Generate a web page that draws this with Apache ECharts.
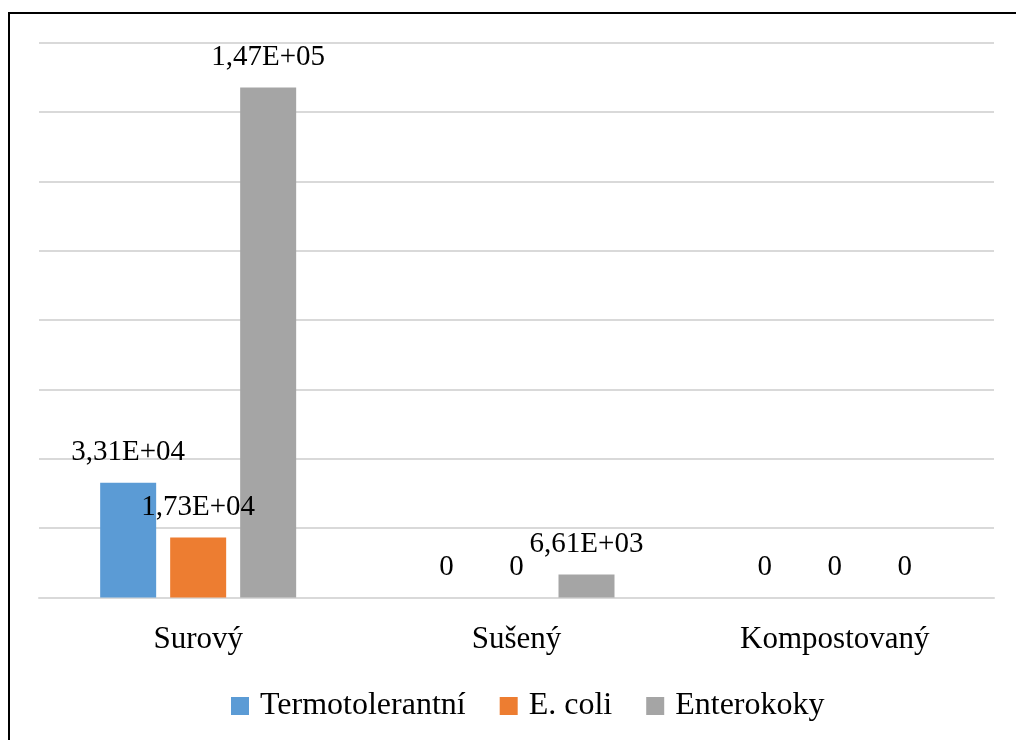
<!DOCTYPE html>
<html>
<head>
<meta charset="utf-8">
<script src="https://cdn.jsdelivr.net/npm/echarts@6/dist/echarts.min.js"></script>
<style>
html,body{margin:0;padding:0;background:#fff;}
#chart{width:1016px;height:740px;}
</style>
</head>
<body>
<div id="chart"></div>
<script>
const categories = ['Surový', 'Sušený', 'Kompostovaný'];
const seriesNames = ['Termotolerantní', 'E. coli', 'Enterokoky'];
const termotolerantni = [33100, 0, 0];
const eColi = [17300, 0, 0];
const enterokoky = [147000, 6610, 0];
const colors = ['#5B9BD5', '#ED7D31', '#A5A5A5'];

function fmt(v) {
  if (v === 0) return '0';
  const parts = v.toExponential(2).split('e');
  const n = parseInt(parts[1], 10);
  return parts[0].replace('.', ',') + 'E' + (n < 0 ? '-' : '+') + String(Math.abs(n)).padStart(2, '0');
}

const font = 'Liberation Serif';
const chart = echarts.init(document.getElementById('chart'), null, {renderer: 'canvas'});

function mkSeries(name, data, color) {
  return {
    name: name,
    type: 'bar',
    data: data,
    barWidth: 56,
    barGap: '25%',
    itemStyle: {color: color},
    label: {
      show: true,
      position: 'top',
      distance: 16,
      color: '#000',
      fontFamily: font,
      fontSize: 29,
      lineHeight: 29,
      formatter: p => fmt(p.value)
    },
    emphasis: {disabled: true},
    animation: false
  };
}

chart.setOption({
  animation: false,
  color: colors,
  graphic: [{
    type: 'rect',
    shape: {x: 9, y: 13, width: 1200, height: 900},
    style: {fill: 'none', stroke: '#000', lineWidth: 2},
    silent: true
  }],
  legend: {
    data: seriesNames,
    left: 226,
    top: 685,
    itemWidth: 18,
    itemHeight: 18,
    itemGap: 34,
    icon: 'rect',
    textStyle: {
      color: '#000',
      fontFamily: font,
      fontSize: 32,
      lineHeight: 32,
      padding: [0, 0, 0, 6]
    }
  },
  grid: {left: 39, right: 22, top: 42.5, bottom: 142.5, containLabel: false},
  xAxis: {
    type: 'category',
    data: categories,
    axisLine: {show: true, lineStyle: {color: '#D9D9D9', width: 2}},
    axisTick: {show: false},
    axisLabel: {color: '#000', fontFamily: font, fontSize: 31, lineHeight: 31, margin: 27}
  },
  yAxis: {
    type: 'value',
    min: 0,
    max: 160000,
    interval: 20000,
    axisLabel: {show: false},
    axisLine: {show: false},
    axisTick: {show: false},
    splitLine: {show: true, lineStyle: {color: '#D9D9D9', width: 2}}
  },
  series: [
    mkSeries(seriesNames[0], termotolerantni, colors[0]),
    mkSeries(seriesNames[1], eColi, colors[1]),
    mkSeries(seriesNames[2], enterokoky, colors[2])
  ]
});
</script>
</body>
</html>
